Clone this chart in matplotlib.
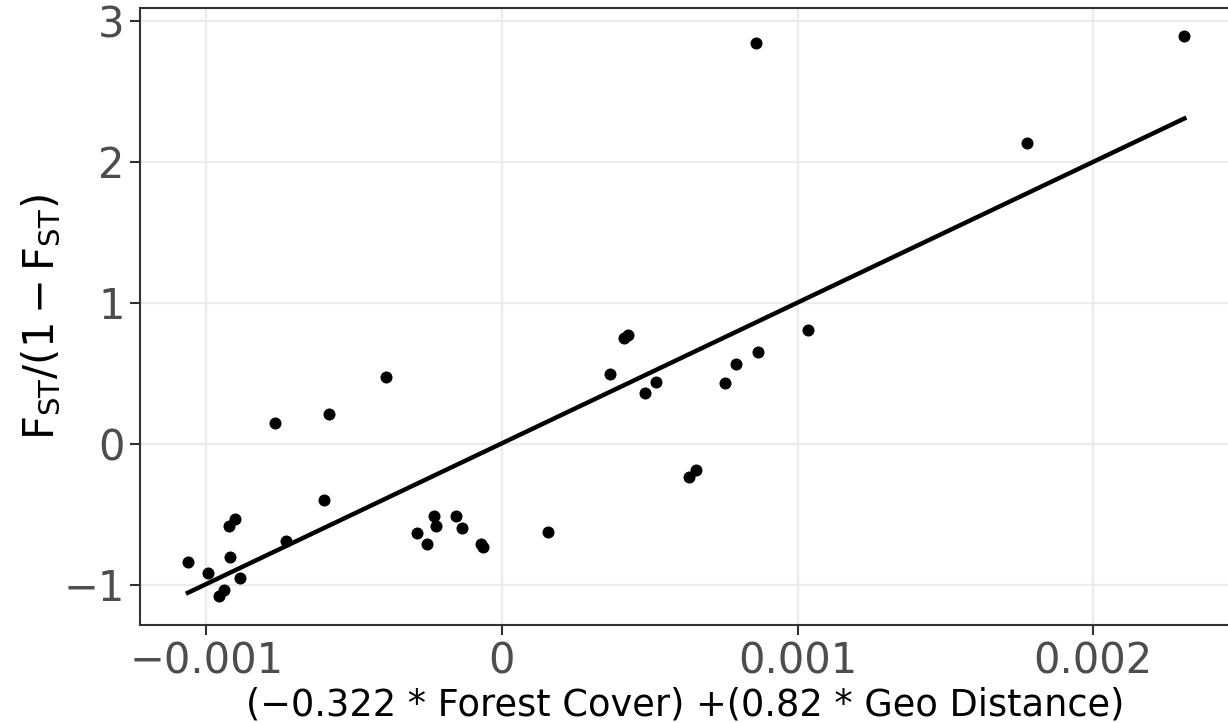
import numpy as np
import matplotlib
matplotlib.use("Agg")
import matplotlib.pyplot as plt

# composite predictor (x) and linearised Fst (y)
x_vals = [-1.0620e-3, -0.9942e-3, -0.9186e-3, -0.8847e-3, -0.9414e-3, -0.9583e-3,
          -0.9244e-3, -0.9041e-3, -0.7661e-3, -0.7298e-3, -0.5854e-3, -0.6024e-3,
          -0.3905e-3, -0.2881e-3, -0.2519e-3, -0.2295e-3, -0.2227e-3, -0.1542e-3,
          -0.1339e-3, -0.0712e-3, -0.0627e-3, 0.1549e-3, 0.3654e-3, 0.4146e-3,
          0.4261e-3, 0.4837e-3, 0.5197e-3, 0.6329e-3, 0.6553e-3, 0.7559e-3,
          0.7932e-3, 0.8675e-3, 0.8590e-3, 1.0339e-3, 1.7763e-3, 2.3081e-3]
y_vals = [-0.843, -0.918, -0.805, -0.954, -1.037, -1.079,
          -0.585, -0.535, 0.143, -0.694, 0.209, -0.403,
          0.473, -0.636, -0.713, -0.514, -0.582, -0.511,
          -0.601, -0.715, -0.732, -0.626, 0.491, 0.748,
          0.770, 0.362, 0.438, -0.240, -0.188, 0.429,
          0.564, 0.651, 2.838, 0.803, 2.133, 2.890]

x_ticks = [-0.001, 0, 0.001, 0.002]
x_ticklabels = ["\u22120.001", "0", "0.001", "0.002"]
y_ticks = [-1, 0, 1, 2, 3]
y_ticklabels = ["\u22121", "0", "1", "2", "3"]

x = np.array(x_vals)
y = np.array(y_vals)

# linear fit, as in geom_smooth(method = "lm")
slope, intercept = np.polyfit(x, y, 1)
x_line = np.array([x.min(), x.max()])

plt.rcParams['mathtext.fontset'] = 'dejavusans'

fig = plt.figure(figsize=(12.28, 7.23), dpi=100)
ax = fig.add_axes([0.114, 0.1355, 0.888, 0.8535])

ax.grid(True, color='#EBEBEB', linewidth=1.6, zorder=0)
ax.set_axisbelow(True)
ax.scatter(x, y, s=75, color='black', zorder=3, linewidths=0)
ax.plot(x_line, intercept + slope * x_line, color='black', linewidth=3.2, zorder=2)

ax.set_xlim(-0.001224, 0.002464)
ax.set_ylim(-1.287, 3.089)
ax.set_xticks(x_ticks)
ax.set_xticklabels(x_ticklabels)
ax.set_yticks(y_ticks)
ax.set_yticklabels(y_ticklabels)
ax.tick_params(labelsize=30, labelcolor='#4D4D4D', color='#333333',
               length=7, width=1.5, pad=4)

for side, sp in ax.spines.items():
    sp.set_color('#333333')
    sp.set_linewidth(1.5)
ax.spines['right'].set_visible(False)

ax.set_xlabel("(\u22120.322 * Forest Cover) +(0.82 * Geo Distance)", fontsize=26.5,
              labelpad=3)
ax.set_ylabel(r"$\mathregular{F_{ST}/(1-F_{ST})}$", fontsize=30, labelpad=0)

fig.savefig("out.png", dpi=100)
